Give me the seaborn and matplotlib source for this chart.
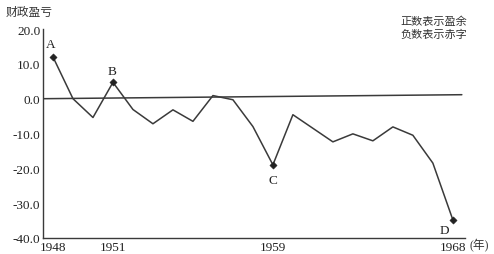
import matplotlib
matplotlib.use("Agg")
import matplotlib.pyplot as plt
import seaborn as sns
import pandas as pd

# Datos (财政盈亏, 1948-1968)
anios = list(range(1948, 1969))
saldo = [12.0, 0.0, -5.4, 4.7, -3.1, -7.2, -3.2, -6.5, 0.9, -0.3, -8.0,
         -19.0, -4.6, -8.5, -12.4, -10.1, -12.1, -8.1, -10.5, -18.5, -34.8]

# Puntos marcados
etiquetas = ["A", "B", "C", "D"]
anios_marcados = [1948, 1951, 1959, 1968]

# Línea de referencia (cero), ligeramente inclinada en el original
ref_anios = [1947.5, 1968.45]
ref_valores = [0.0, 1.15]

xticks = [1948, 1951, 1959, 1968]
yticks = [-40, -30, -20, -10, 0, 10, 20]

sns.set_theme(style="white")
plt.rcParams["font.family"] = ["Liberation Serif", "Noto Sans CJK SC", "DejaVu Sans"]

df = pd.DataFrame({"anio": anios, "saldo": saldo})
df_marc = df[df["anio"].isin(anios_marcados)]

fig = plt.figure(figsize=(4.94, 2.55), dpi=100)
ax = fig.add_axes([0.087, 0.063, 0.854, 0.819])

color = "#3a3a3a"
sns.lineplot(data=df, x="anio", y="saldo", color=color, linewidth=1.1, ax=ax)
sns.scatterplot(data=df_marc, x="anio", y="saldo", marker="D", s=14,
                color="#222222", edgecolor="#222222", ax=ax, zorder=3)
sns.lineplot(x=ref_anios, y=ref_valores, color=color, linewidth=1.1, ax=ax)

# Letras junto a los puntos
desplaz = {"A": (-2, 9), "B": (-1, 8), "C": (0, -11), "D": (-6, -7)}
for et, an in zip(etiquetas, anios_marcados):
    val = df.loc[df["anio"] == an, "saldo"].iloc[0]
    ax.annotate(et, (an, val), xytext=desplaz[et], textcoords="offset points",
                ha="center", va="center", fontsize=9.5, color="#222222")

ax.set_xlim(1947.5, 1968.6)
ax.set_ylim(-40, 20)
ax.set_xticks(xticks)
ax.set_yticks(yticks)
ax.set_yticklabels([f"{v:.1f}" for v in yticks])
ax.tick_params(direction="in", length=3, width=0.8, colors="#222222",
               labelsize=9.5, pad=2)
ax.set_xlabel("")
ax.set_ylabel("")

for lado in ["top", "right"]:
    ax.spines[lado].set_visible(False)
for lado in ["left", "bottom"]:
    ax.spines[lado].set_color(color)
    ax.spines[lado].set_linewidth(1.0)

fig.text(0.012, 0.95, "财政盈亏", fontsize=8.5, color="#333333",
         family=["Noto Sans CJK SC", "DejaVu Sans"], va="center")
fig.text(0.81, 0.89, "正数表示盈余\n负数表示赤字", fontsize=8, color="#333333",
         family=["Noto Sans CJK SC", "DejaVu Sans"], va="center",
         linespacing=1.3)
fig.text(0.951, 0.035, "(年)", fontsize=8.5, color="#333333",
         family=["Liberation Serif", "Noto Sans CJK SC"], va="center")

fig.savefig("out.png", dpi=100)
plt.close(fig)
